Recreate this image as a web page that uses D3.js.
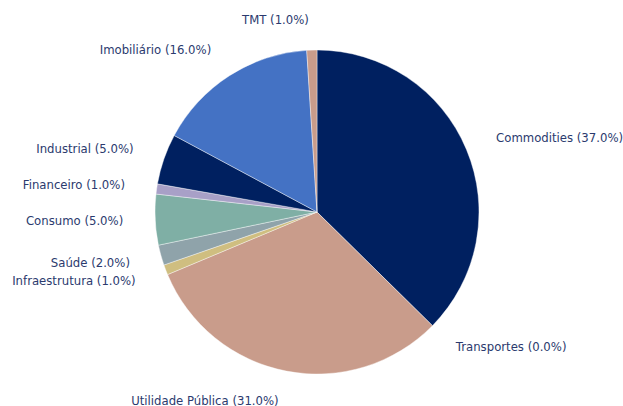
<!DOCTYPE html>
<html>
<head>
<meta charset="utf-8">
<script src="https://cdn.jsdelivr.net/npm/d3@7"></script>
<style>
  body { margin: 0; background: #fff; }
  svg { display: block; }
</style>
</head>
<body>
<svg id="chart"></svg>
<script>
const sectors = ['Commodities', 'Transportes', 'Utilidade Pública', 'Infraestrutura', 'Saúde',
  'Consumo', 'Financeiro', 'Industrial', 'Imobiliário', 'TMT'];
const weights = [37, 0, 31, 1, 2, 5, 1, 5, 16, 1];
const colors = ['#002060', '#7f7f7f', '#c99c8b', '#cfbe80', '#8fa3aa',
  '#7fafa5', '#a8a0c7', '#002060', '#4472c4', '#c99c8b'];

const dim = { width: 623, height: 406 };
const cx = 317;
const cy = 212;
const radius = 162;
const labelRadius = 192;

const data = sectors.map((name, i) => ({ name, value: weights[i], color: colors[i] }));

const svg = d3.select('#chart')
  .attr('width', dim.width)
  .attr('height', dim.height);

const g = svg.append('g')
  .attr('transform', `translate(${cx},${cy})`);

const pie = d3.pie()
  .sort(null)
  .value((d) => d.value);

const arc = d3.arc()
  .innerRadius(0)
  .outerRadius(radius);

const arcs = pie(data);

g.selectAll('path')
  .data(arcs)
  .join('path')
  .attr('d', arc)
  .attr('fill', (d) => d.data.color)
  .attr('stroke', '#fff')
  .attr('stroke-width', (d) => (d.data.value > 0 ? 0.4 : 0));

g.selectAll('text.label')
  .data(arcs)
  .join('text')
  .attr('class', 'label')
  .each(function (d) {
    const a = (d.startAngle + d.endAngle) / 2;
    const x = labelRadius * Math.sin(a);
    const y = -labelRadius * Math.cos(a);
    const right = a > 0 && a < Math.PI;
    d3.select(this)
      .attr('x', x + (right ? 2 : -2))
      .attr('y', y)
      .attr('text-anchor', right ? 'start' : 'end');
  })
  .attr('dominant-baseline', 'central')
  .style('font-family', 'DejaVu Sans, sans-serif')
  .style('font-size', '11.7px')
  .style('fill', '#2b3a6e')
  .text((d) => `${d.data.name} (${d.data.value.toFixed(1)}%)`);
</script>
</body>
</html>
